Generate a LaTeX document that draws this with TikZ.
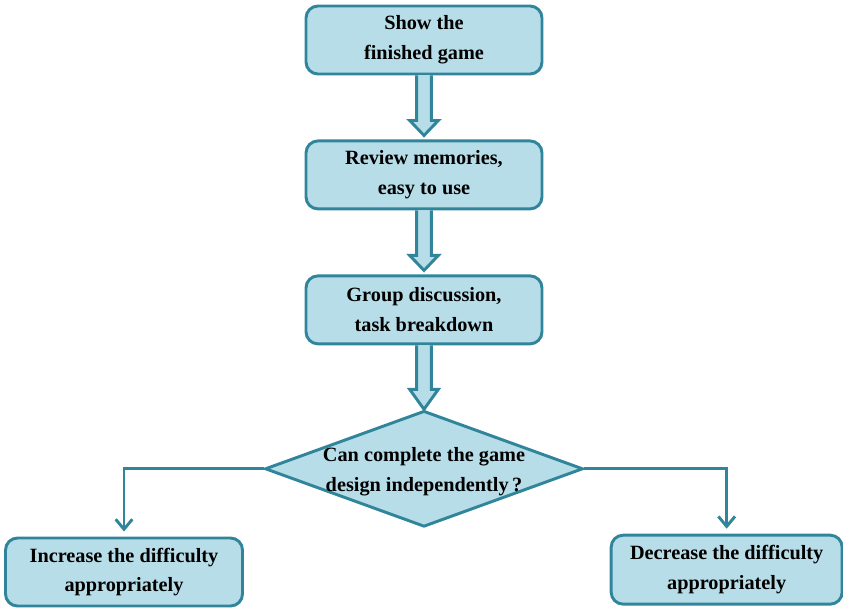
\documentclass[tikz,border=0pt]{standalone}
\usepackage{fontspec}
\setmainfont{Liberation Serif}
\usetikzlibrary{positioning,calc,shapes.geometric,arrows.meta}
\definecolor{boxfill}{RGB}{183,221,232}
\definecolor{boxline}{RGB}{49,133,155}
\newcommand\boxfont{\bfseries\fontsize{17.3}{25.5}\selectfont}
\tikzset{stepbox/.style={rounded corners=0.36cm, draw=boxline, line width=2.5pt, fill=boxfill, align=center, minimum width=7.08cm, minimum height=2.04cm, inner sep=0pt, font=\boxfont}}
\tikzset{decide/.style={diamond, draw=boxline, line width=2.5pt, fill=boxfill, minimum width=9.54cm, minimum height=3.48cm, inner sep=0pt}}
\tikzset{hollow/.style={draw=boxline, line width=2.5pt, fill=boxfill, line join=miter}}
\tikzset{arr/.style={draw=boxline, line width=2.5pt, shorten >=0.15cm, -{Straight Barb[length=0.3cm,width=0.5cm]}}}
\newcommand\hollowarr[4]{
		\draw[hollow] ($(#1.south)+(-0.22,0)$) -- ($(#2.north)+(-0.22,#3+#4)$) -- ++(-0.21,0)
			-- ($(#2.north)+(0,#4)$) -- ($(#2.north)+(0.43,#3+#4)$) -- ++(-0.21,0) -- ($(#1.south)+(0.22,0)$);
	}

\begin{document}
\begin{tikzpicture}
			\useasboundingbox (0,0) rectangle (25.29,-18.24);
			\node[stepbox] (show) at (12.72,-1.2){Show the\\finished game};
			\node[stepbox, below=1.92 of show] (review){Review memories,\\easy to use};
			\node[stepbox, below=1.92 of review] (group){Group discussion,\\task breakdown};
			\node[decide, below=1.92 of group, label={[font=\boxfont, align=center, yshift=-0.09cm]center:Can complete the game\\design independently\,?}] (can){};

			\node[stepbox, minimum width=7.11cm] (inc) at (3.72,-17.16){Increase the difficulty\\appropriately};
			\node[stepbox, minimum width=6.93cm, minimum height=2.07cm] (dec) at (21.8,-17.09){Decrease the difficulty\\appropriately};

			\hollowarr{show}{review}{0.45}{0.12}
			\hollowarr{review}{group}{0.45}{0.12}
			\hollowarr{group}{can}{0.6}{0}

			\draw[arr] (can.west) -| (inc.north);
			\draw[arr] (can.east) -| (dec.north);
		\end{tikzpicture}
\end{document}
